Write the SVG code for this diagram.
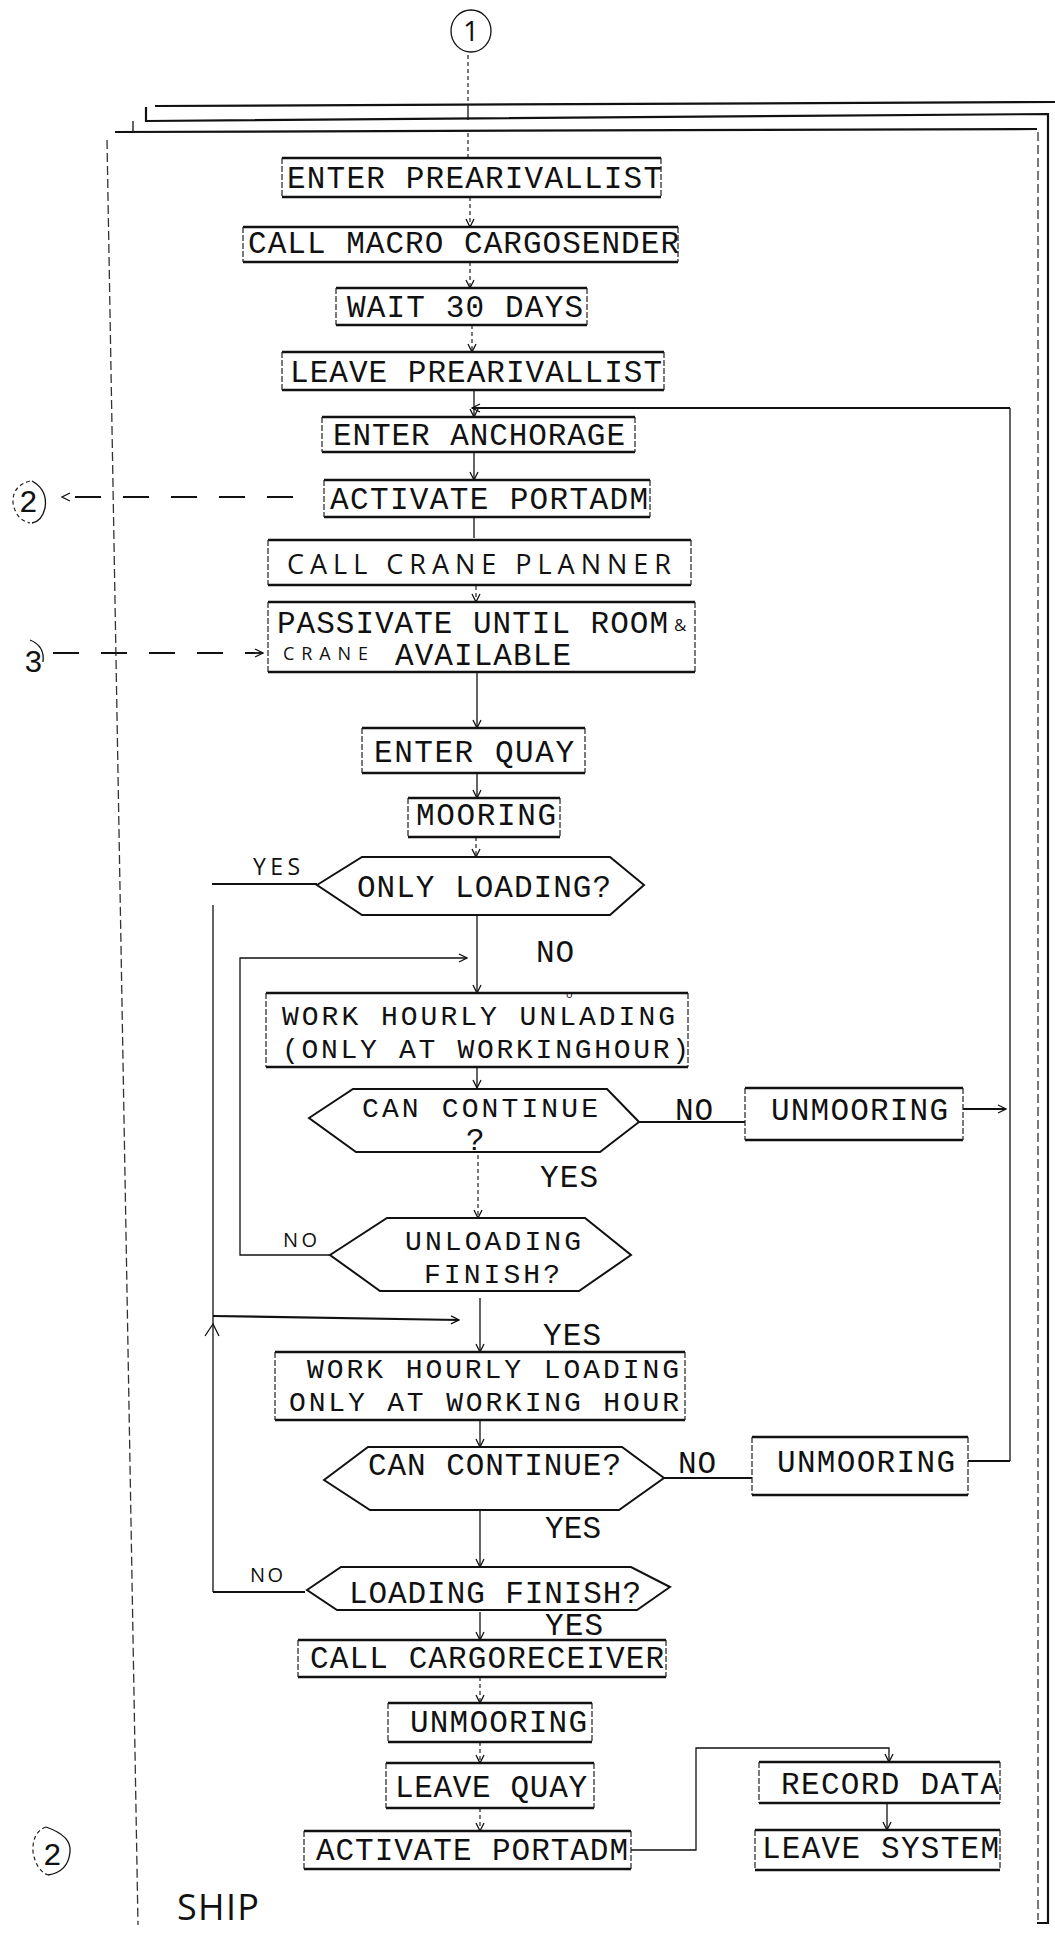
<svg xmlns="http://www.w3.org/2000/svg" width="1055" height="1935" viewBox="0 0 1055 1935">
<defs>
<style>
.tb{stroke:#111;stroke-width:2.6;fill:none}
.sd{stroke:#222;stroke-width:1.2;fill:none;stroke-dasharray:6 2}
.hx{stroke:#111;stroke-width:2;fill:none;stroke-linejoin:miter}
.ln{stroke:#111;stroke-width:1.3;fill:none}
.lk{stroke:#111;stroke-width:2.2;fill:none}
.ds{stroke:#222;stroke-width:1.2;fill:none;stroke-dasharray:4 3}
.dl{stroke:#111;stroke-width:1.8;fill:none;stroke-dasharray:26 22}
.fr{stroke:#111;stroke-width:2.2;fill:none}
.fd{stroke:#333;stroke-width:1.3;fill:none;stroke-dasharray:9 4}
.t{font-family:"Liberation Mono","Courier New",monospace;font-size:31px;fill:#111}
.t2{font-size:28px}
.h{font-family:"Open Sans","DejaVu Sans",sans-serif;font-weight:400;fill:#111}
</style>
<marker id="a" viewBox="0 0 10 10" refX="9" refY="5" markerWidth="10" markerHeight="10" markerUnits="userSpaceOnUse" orient="auto">
<path d="M1,1 L9,5 L1,9" fill="none" stroke="#111" stroke-width="1.3"/>
</marker>
</defs>
<rect width="1055" height="1935" fill="#fff"/>

<g id="frame">
<path class="fr" d="M155 106 L1055 102"/>
<path class="fr" d="M146 107 V121 L1048 114 V1923 H1037"/>
<path class="fr" d="M115 132 L1037 129"/>
<path class="ln" d="M133 121 V132"/>
<path class="fd" d="M1038 132 V1920"/>
<path class="fd" d="M107 140 L138 1925"/>
</g>

<g id="connectors">
<path class="ds" d="M468 55 V106"/>
<path class="ln" d="M468 106 V120"/>
<path class="ds" d="M468 133 V157"/>
<path class="ds" d="M470 197 V227" marker-end="url(#a)"/>
<path class="ds" d="M470 262 V288" marker-end="url(#a)"/>
<path class="ds" d="M472 325 V352" marker-end="url(#a)"/>
<path class="ln" d="M474 390 V417" marker-end="url(#a)"/>
<path class="ln" d="M474 452 V480" marker-end="url(#a)"/>
<path class="ln" d="M474 517 V538"/>
<path class="ds" d="M476 586 V602" marker-end="url(#a)"/>
<path class="ln" d="M477 672 V728" marker-end="url(#a)"/>
<path class="ln" d="M477 773 V798" marker-end="url(#a)"/>
<path class="ds" d="M476 837 V857" marker-end="url(#a)"/>
<path class="ln" d="M477 915 V993" marker-end="url(#a)"/>
<path class="ln" d="M330 1255 H240 V958 H467" marker-end="url(#a)"/>
<path class="ln" d="M477 1067 V1088" marker-end="url(#a)"/>
<path class="lk" d="M639 1122 H745"/>
<path class="lk" d="M963 1109 H1006" marker-end="url(#a)"/>
<path class="ds" d="M478 1155 V1218" marker-end="url(#a)"/>
<path class="ln" d="M480 1298 V1352" marker-end="url(#a)"/>
<path class="lk" d="M317 884 H212"/>
<path class="ln" d="M213 905 V1592"/>
<path class="lk" d="M213 1592 H305"/>
<path class="ln" d="M205 1336 L213 1324 L219 1336"/>
<path class="lk" d="M213 1316 L459 1320" marker-end="url(#a)"/>
<path class="ln" d="M480 1420 V1447" marker-end="url(#a)"/>
<path class="lk" d="M664 1478 H752"/>
<path class="lk" d="M968 1461 H1010"/>
<path class="ln" d="M1010 1461 V408"/>
<path class="lk" d="M1010 408 H472" marker-end="url(#a)"/>
<path class="ln" d="M480 1510 V1567" marker-end="url(#a)"/>
<path class="ln" d="M480 1612 V1640" marker-end="url(#a)"/>
<path class="ds" d="M480 1677 V1703" marker-end="url(#a)"/>
<path class="ds" d="M480 1742 V1763" marker-end="url(#a)"/>
<path class="ds" d="M480 1808 V1831" marker-end="url(#a)"/>
<path class="ln" d="M631 1850 H696 V1748 H889 V1762" marker-end="url(#a)"/>
<path class="ln" d="M887 1803 V1830" marker-end="url(#a)"/>
<path class="dl" d="M293 497 H62" marker-end="url(#a)"/>
<path class="dl" d="M53 653 H263" marker-end="url(#a)"/>
</g>

<g id="c1">
<ellipse cx="471" cy="31" rx="20" ry="21" class="ln"/>
<text class="h" x="471" y="41" font-size="28" text-anchor="middle">1</text>
</g>
<g id="c2a">
<path class="ln" d="M32 481 Q48 490 45 508 Q42 521 32 523"/>
<path class="ds" d="M30 481 Q12 486 13 503 Q16 520 30 523"/>
<text class="t" x="19" y="512" font-size="30">2</text>
</g>
<g id="c3">
<path class="ln" d="M30 640 Q45 646 43 662"/>
<text class="t" x="24" y="672" font-size="30">3</text>
</g>
<g id="c2b">
<path class="ln" d="M46 1827 Q72 1836 70 1852 Q68 1872 48 1875"/>
<path class="ds" d="M46 1827 Q32 1832 33 1852 Q36 1870 48 1875"/>
<text class="t" x="43" y="1865" font-size="28">2</text>
</g>

<g id="n1"><path class="tb" d="M282 158 H661 M282 197 H661"/><path class="sd" d="M282 158 V197 M661 158 V197"/><text class="t" x="287" y="188" textLength="375" lengthAdjust="spacing">ENTER PREARIVALLIST</text></g>
<g id="n2"><path class="tb" d="M243 227 H678 M243 262 H678"/><path class="sd" d="M243 227 V262 M678 227 V262"/><text class="t" x="248" y="253" textLength="431" lengthAdjust="spacing">CALL MACRO CARGOSENDER</text></g>
<g id="n3"><path class="tb" d="M336 288 H587 M336 325 H587"/><path class="sd" d="M336 288 V325 M587 288 V325"/><text class="t" x="347" y="317" textLength="236" lengthAdjust="spacing">WAIT 30 DAYS</text></g>
<g id="n4"><path class="tb" d="M282 352 H664 M282 390 H664"/><path class="sd" d="M282 352 V390 M664 352 V390"/><text class="t" x="290" y="382" textLength="372" lengthAdjust="spacing">LEAVE PREARIVALLIST</text></g>
<g id="n5"><path class="tb" d="M322 417 H635 M322 452 H635"/><path class="sd" d="M322 417 V452 M635 417 V452"/><text class="t" x="333" y="445" textLength="292" lengthAdjust="spacing">ENTER ANCHORAGE</text></g>
<g id="n6"><path class="tb" d="M324 480 H650 M324 517 H650"/><path class="sd" d="M324 480 V517 M650 480 V517"/><text class="t" x="330" y="509" textLength="318" lengthAdjust="spacing">ACTIVATE PORTADM</text></g>
<g id="n7"><path class="tb" d="M268 540 H691 M268 585 H691"/><path class="sd" d="M268 540 V585 M691 540 V585"/><text class="h" x="287" y="574" font-size="27" textLength="384" lengthAdjust="spacing">CALL CRANE PLANNER</text></g>
<g id="n8"><path class="tb" d="M268 602 H695 M268 672 H695"/><path class="sd" d="M268 602 V672 M695 602 V672"/><text class="t" x="277" y="633" textLength="391" lengthAdjust="spacing">PASSIVATE UNTIL ROOM</text><text class="h" x="674" y="631" font-size="17">&amp;</text><text class="h" x="283" y="660" font-size="18" textLength="85" lengthAdjust="spacing">CRANE</text><text class="t" x="395" y="665" textLength="176" lengthAdjust="spacing">AVAILABLE</text></g>
<g id="n9"><path class="tb" d="M362 728 H585 M362 773 H585"/><path class="sd" d="M362 728 V773 M585 728 V773"/><text class="t" x="374" y="762" textLength="200" lengthAdjust="spacing">ENTER QUAY</text></g>
<g id="n10"><path class="tb" d="M408 798 H560 M408 837 H560"/><path class="sd" d="M408 798 V837 M560 798 V837"/><text class="t" x="416" y="825" textLength="140" lengthAdjust="spacing">MOORING</text></g>
<g id="d1"><polygon class="hx" points="317,885 362,857 610,857 644,885 610,915 362,915"/><text class="t" x="357" y="897" textLength="254" lengthAdjust="spacing">ONLY LOADING?</text></g>
<g id="n11"><path class="tb" d="M266 993 H688 M266 1067 H688"/><path class="sd" d="M266 993 V1067 M688 993 V1067"/><text class="t t2" x="282" y="1025" textLength="393" lengthAdjust="spacing">WORK HOURLY UNLADING</text><text class="h" x="566" y="998" font-size="11">o</text><text class="t t2" x="282" y="1058" textLength="407" lengthAdjust="spacing">(ONLY AT WORKINGHOUR)</text></g>
<g id="d2"><polygon class="hx" points="309,1118 353,1089 607,1089 639,1122 600,1152 356,1152"/><text class="t t2" x="362" y="1117" textLength="236" lengthAdjust="spacing">CAN CONTINUE</text><text class="t" x="466" y="1150" font-size="15">?</text></g>
<g id="n12"><path class="tb" d="M745 1088 H963 M745 1140 H963"/><path class="sd" d="M745 1088 V1140 M963 1088 V1140"/><text class="t" x="771" y="1120" textLength="177" lengthAdjust="spacing">UNMOORING</text></g>
<g id="d3"><polygon class="hx" points="330,1255 387,1218 585,1218 631,1255 579,1291 380,1291"/><text class="t t2" x="405" y="1250" textLength="176" lengthAdjust="spacing">UNLOADING</text><text class="t t2" x="424" y="1283" textLength="136" lengthAdjust="spacing">FINISH?</text></g>
<g id="n13"><path class="tb" d="M275 1352 H685 M275 1420 H685"/><path class="sd" d="M275 1352 V1420 M685 1352 V1420"/><text class="t t2" x="307" y="1378" textLength="372" lengthAdjust="spacing">WORK HOURLY LOADING</text><text class="t t2" x="289" y="1411" textLength="390" lengthAdjust="spacing">ONLY AT WORKING HOUR</text></g>
<g id="d4"><polygon class="hx" points="324,1480 368,1447 622,1447 664,1478 619,1510 370,1510"/><text class="t" x="368" y="1475" textLength="253" lengthAdjust="spacing">CAN CONTINUE?</text></g>
<g id="n14"><path class="tb" d="M752 1437 H968 M752 1495 H968"/><path class="sd" d="M752 1437 V1495 M968 1437 V1495"/><text class="t" x="777" y="1472" textLength="178" lengthAdjust="spacing">UNMOORING</text></g>
<g id="d5"><polygon class="hx" points="307,1590 341,1567 631,1567 670,1587 637,1610 337,1610"/><text class="t" x="349" y="1603" textLength="292" lengthAdjust="spacing">LOADING FINISH?</text></g>
<g id="n15"><path class="tb" d="M298 1640 H666 M298 1677 H666"/><path class="sd" d="M298 1640 V1677 M666 1640 V1677"/><text class="t" x="310" y="1668" textLength="354" lengthAdjust="spacing">CALL CARGORECEIVER</text></g>
<g id="n16"><path class="tb" d="M388 1703 H592 M388 1742 H592"/><path class="sd" d="M388 1703 V1742 M592 1703 V1742"/><text class="t" x="410" y="1732" textLength="177" lengthAdjust="spacing">UNMOORING</text></g>
<g id="n17"><path class="tb" d="M386 1763 H594 M386 1808 H594"/><path class="sd" d="M386 1763 V1808 M594 1763 V1808"/><text class="t" x="395" y="1797" textLength="192" lengthAdjust="spacing">LEAVE QUAY</text></g>
<g id="n18"><path class="tb" d="M304 1831 H631 M304 1869 H631"/><path class="sd" d="M304 1831 V1869 M631 1831 V1869"/><text class="t" x="316" y="1860" textLength="312" lengthAdjust="spacing">ACTIVATE PORTADM</text></g>
<g id="n19"><path class="tb" d="M759 1762 H1000 M759 1803 H1000"/><path class="sd" d="M759 1762 V1803 M1000 1762 V1803"/><text class="t" x="781" y="1794" textLength="218" lengthAdjust="spacing">RECORD DATA</text></g>
<g id="n20"><path class="tb" d="M755 1830 H1000 M755 1870 H1000"/><path class="sd" d="M755 1830 V1870 M1000 1830 V1870"/><text class="t" x="762" y="1858" textLength="237" lengthAdjust="spacing">LEAVE SYSTEM</text></g>

<g id="labels">
<text class="h" x="253" y="875" font-size="23" textLength="47" lengthAdjust="spacing">YES</text>
<text class="t" x="536" y="962" textLength="38" lengthAdjust="spacing">NO</text>
<text class="t" x="675" y="1120" textLength="38" lengthAdjust="spacing">NO</text>
<text class="t" x="540" y="1187" textLength="58" lengthAdjust="spacing">YES</text>
<text class="h" x="283" y="1247" font-size="20" textLength="34" lengthAdjust="spacing">NO</text>
<text class="t" x="543" y="1345" textLength="58" lengthAdjust="spacing">YES</text>
<text class="t" x="678" y="1473" textLength="38" lengthAdjust="spacing">NO</text>
<text class="t" x="545" y="1538" textLength="56" lengthAdjust="spacing">YES</text>
<text class="h" x="250" y="1582" font-size="20" textLength="33" lengthAdjust="spacing">NO</text>
<text class="t" x="545" y="1635" textLength="58" lengthAdjust="spacing">YES</text>
<text class="h" x="177" y="1920" font-size="36" textLength="82" lengthAdjust="spacing">SHIP</text>
</g>
</svg>
